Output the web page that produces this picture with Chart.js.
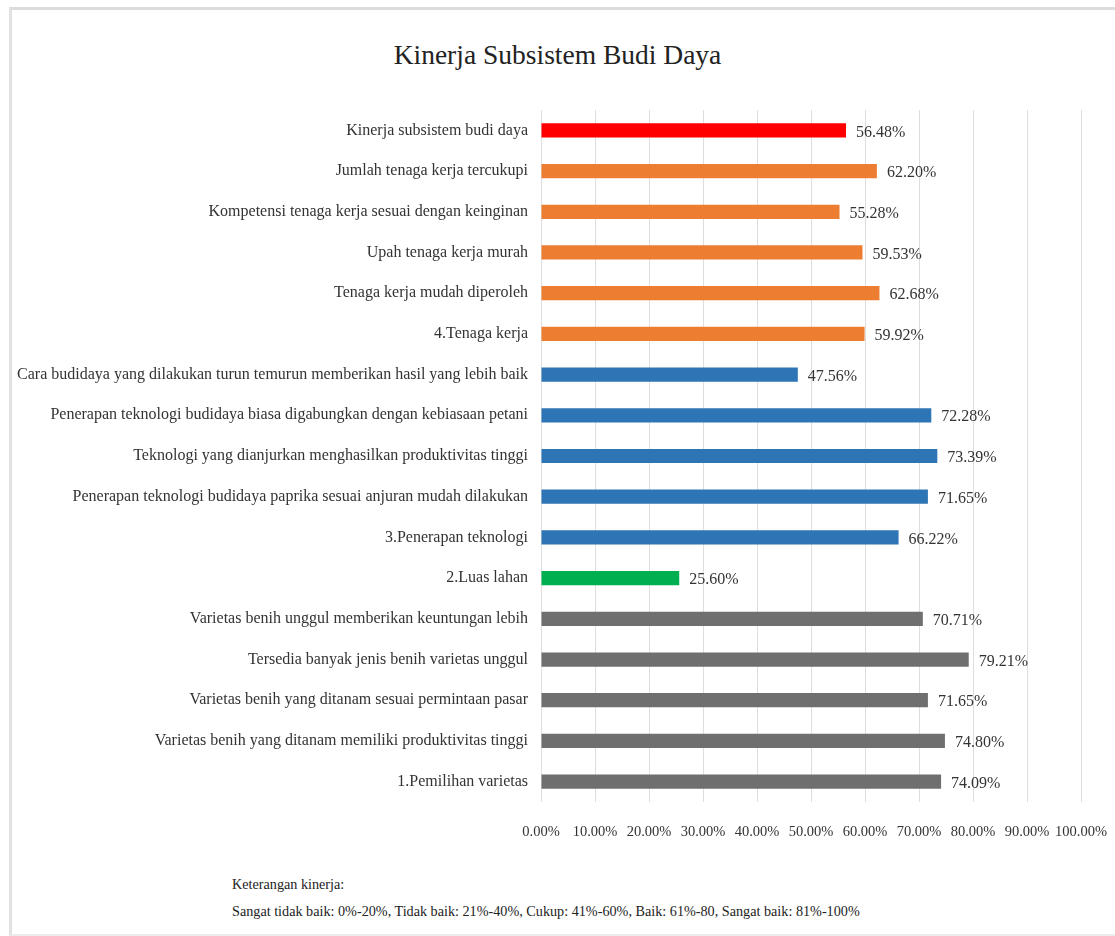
<!DOCTYPE html>
<html>
<head>
<meta charset="utf-8">
<script src="https://cdn.jsdelivr.net/npm/chart.js@4.4.1/dist/chart.umd.min.js"></script>
<style>
    body { margin: 0; background: #fff; font-family: "Liberation Serif", "Times New Roman", serif; }
    #wrap { position: relative; width: 1115px; height: 936px; overflow: hidden; }
    #frame { position: absolute; left: 9px; top: 7px; width: 1120px; height: 924px;
             border-top: 3px solid #dcdcdc; border-left: 3px solid #e2e2e2; border-bottom: 2px solid #ececec; }
    #title { position: absolute; left: 0; top: 38px; width: 1115px; text-align: center;
             font-size: 27.5px; line-height: 34px; color: #222; }
    #box { position: absolute; left: 0; top: 0; width: 1115px; height: 860px; }
    #note { position: absolute; left: 232px; top: 871px; font-size: 14.2px; color: #222; line-height: 27px; }
</style>
</head>
<body>
<div id="wrap">
    <div id="frame"></div>
    <div id="title">Kinerja Subsistem Budi Daya</div>
    <div id="box"><canvas id="kinerjaChart"></canvas></div>
    <div id="note">Keterangan kinerja:<br>Sangat tidak baik: 0%-20%, Tidak baik: 21%-40%, Cukup: 41%-60%, Baik: 61%-80, Sangat baik: 81%-100%</div>
</div>
<script>
// data (top to bottom)
const categories = [
    "Kinerja subsistem budi daya",
    "Jumlah tenaga kerja tercukupi",
    "Kompetensi tenaga kerja sesuai dengan keinginan",
    "Upah tenaga kerja murah",
    "Tenaga kerja mudah diperoleh",
    "4.Tenaga kerja",
    "Cara budidaya yang dilakukan turun temurun memberikan hasil yang lebih baik",
    "Penerapan teknologi budidaya biasa digabungkan dengan kebiasaan petani",
    "Teknologi yang dianjurkan menghasilkan produktivitas tinggi",
    "Penerapan teknologi budidaya paprika sesuai anjuran mudah dilakukan",
    "3.Penerapan teknologi",
    "2.Luas lahan",
    "Varietas benih unggul memberikan keuntungan lebih",
    "Tersedia banyak jenis benih varietas unggul",
    "Varietas benih yang ditanam sesuai permintaan pasar",
    "Varietas benih yang ditanam memiliki produktivitas tinggi",
    "1.Pemilihan varietas"
];
const values = [56.48, 62.20, 55.28, 59.53, 62.68, 59.92, 47.56, 72.28, 73.39, 71.65, 66.22, 25.60, 70.71, 79.21, 71.65, 74.80, 74.09];
const groups = ["total", "tenaga", "tenaga", "tenaga", "tenaga", "tenaga",
                "teknologi", "teknologi", "teknologi", "teknologi", "teknologi",
                "lahan", "varietas", "varietas", "varietas", "varietas", "varietas"];
const xTicks = [0, 10, 20, 30, 40, 50, 60, 70, 80, 90, 100];

// styles
const groupColors = {
    total: "#ff0000",
    tenaga: "#ed7d31",
    teknologi: "#2e75b6",
    lahan: "#00b050",
    varietas: "#6f6f6f"
};
const serif = "'Liberation Serif', 'Times New Roman', serif";

// value labels at the end of each bar
const barLabels = {
    id: "barLabels",
    afterDatasetsDraw(chart) {
        const ctx = chart.ctx;
        const meta = chart.getDatasetMeta(0);
        ctx.save();
        ctx.font = "16px " + serif;
        ctx.fillStyle = "#333";
        ctx.textAlign = "left";
        ctx.textBaseline = "middle";
        meta.data.forEach((bar, i) => {
            ctx.fillText(values[i].toFixed(2) + "%", bar.x + 10, bar.y + 2);
        });
        ctx.restore();
    }
};

const ctx = document.getElementById('kinerjaChart').getContext('2d');
new Chart(ctx, {
    type: 'bar',
    data: {
        labels: categories,
        datasets: [{
            data: values,
            backgroundColor: groups.map(g => groupColors[g]),
            barPercentage: 0.35,
            categoryPercentage: 1
        }]
    },
    options: {
        indexAxis: 'y',
        responsive: true,
        maintainAspectRatio: false,
        animation: false,
        layout: { padding: { top: 110, right: 34, bottom: 0, left: 0 } },
        plugins: {
            legend: { display: false },
            tooltip: { enabled: false }
        },
        scales: {
            x: {
                min: 0,
                max: 100,
                afterBuildTicks: scale => { scale.ticks = xTicks.map(v => ({ value: v })); },
                afterFit: scale => {
                    scale.height = 58;
                    scale.paddingLeft = 0;
                    scale.paddingRight = 0;
                },
                grid: { color: "#dedede", drawTicks: false },
                border: { display: false },
                ticks: {
                    padding: 21,
                    color: "#333",
                    autoSkip: false,
                    maxRotation: 0,
                    minRotation: 0,
                    font: { family: serif, size: 14.5 },
                    callback: v => v.toFixed(2) + "%"
                }
            },
            y: {
                afterFit: scale => { scale.width = 541; },
                grid: { display: false, drawTicks: false },
                border: { display: false },
                ticks: {
                    padding: 13,
                    color: "#333",
                    autoSkip: false,
                    font: { family: serif, size: 16 }
                }
            }
        }
    },
    plugins: [barLabels]
});
</script>
</body>
</html>
